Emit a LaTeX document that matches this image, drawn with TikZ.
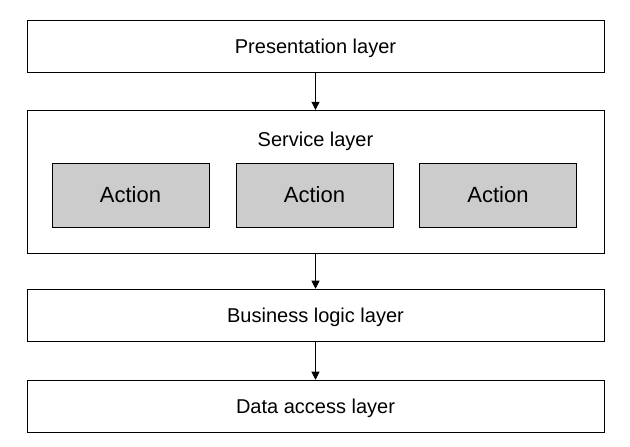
\documentclass[tikz,border=0pt]{standalone}
\usepackage{fontspec}
\setmainfont{Liberation Sans}
\usetikzlibrary{arrows.meta}
\tikzset{
  layer/.style={draw, thin, fill=white, minimum width=433pt, inner sep=0pt, text depth=0pt, font=\fontsize{15pt}{18pt}\selectfont},
  action/.style={draw, thin, fill=black!20, minimum width=118pt, minimum height=48pt, inner sep=0pt, text depth=0pt, font=\fontsize{16.5pt}{20pt}\selectfont},
  flow/.style={-{Triangle[length=6pt,width=6pt]}, thin}
}
\begin{document}
\begin{tikzpicture}[x=0.75pt,y=-0.75pt]
\useasboundingbox (0,0) rectangle (630,446);
\node[layer, minimum height=39pt] (present) at (315.5,46.5) {Presentation layer};
\node[layer, minimum height=107pt] (service) at (315.5,181.5) {};
\node[font=\fontsize{15pt}{18pt}\selectfont, text depth=0pt] (servicelbl) at (315.5,139) {Service layer};
\node[action] (act1) at (130.5,195) {Action};
\node[action] (act2) at (314.5,195) {Action};
\node[action] (act3) at (498,195) {Action};
\node[layer, minimum height=39pt] (business) at (315.5,315) {Business logic layer};
\node[layer, minimum height=39pt] (data) at (315.5,406) {Data access layer};
\draw[flow] (present) -- (service);
\draw[flow] (service) -- (business);
\draw[flow] (business) -- (data);
\end{tikzpicture}
\end{document}
